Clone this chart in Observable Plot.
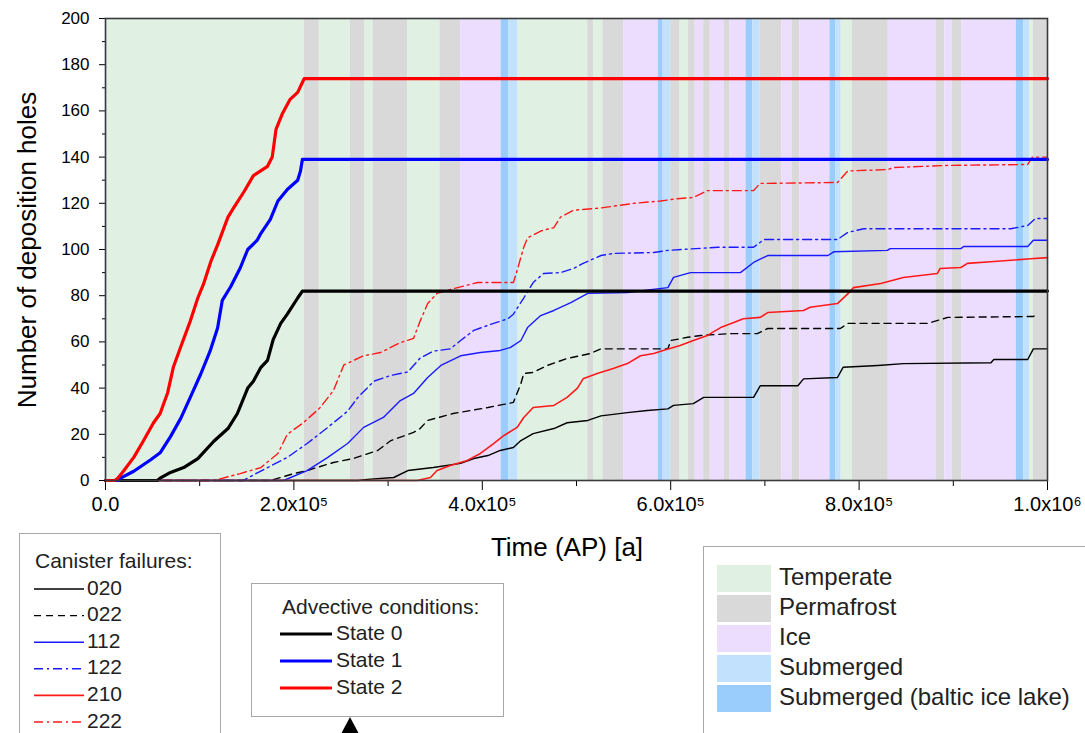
<!DOCTYPE html>
<html>
<head>
<meta charset="utf-8">
<script src="https://cdn.jsdelivr.net/npm/d3@7"></script>
<script src="https://cdn.jsdelivr.net/npm/@observablehq/plot@0.6"></script>
<style>
  html, body { margin: 0; padding: 0; background: #fff; }
  #wrap { position: relative; width: 1085px; height: 733px; overflow: hidden; font-family: "Liberation Sans", Arial, sans-serif; }
  #wrap svg { display: block; }
  #overlay { position: absolute; left: 0; top: 0; pointer-events: none; }
</style>
</head>
<body>
<div id="wrap"></div>
<script>
// ---------------- DATA (time in kyr AP, values = number of deposition holes) ----------------
// Climate domains: start of each period (kyr) and its type; each period ends where the next begins.
const bandStart = [0, 2, 211, 227, 260, 275, 284, 321, 355, 377, 420, 428, 438, 512, 518, 528, 550, 587, 592, 600, 610, 619, 626, 635, 642, 657, 663, 680, 687, 695, 718, 729, 737, 769, 775, 781, 793, 831, 882, 891, 899, 909, 967, 975, 981, 985];
const bandType  = ["Submerged", "Temperate", "Permafrost", "Temperate", "Permafrost", "Temperate", "Permafrost", "Temperate", "Permafrost", "Ice", "Baltic", "Submerged", "Temperate", "Permafrost", "Temperate", "Permafrost", "Ice", "Baltic", "Submerged", "Permafrost", "Temperate", "Permafrost", "Ice", "Permafrost", "Ice", "Permafrost", "Ice", "Baltic", "Submerged", "Permafrost", "Ice", "Permafrost", "Ice", "Baltic", "Submerged", "Temperate", "Permafrost", "Ice", "Permafrost", "Ice", "Permafrost", "Ice", "Baltic", "Submerged", "Temperate", "Permafrost"];
const timeEnd = 1000;

// Advective conditions (thick lines)
const tState0 = [0, 55, 58, 69, 83, 98, 115, 130, 140, 151, 157, 165, 172, 178, 186, 193, 204, 209, 1000];
const vState0 = [0, 0, 1, 3.5, 5.6, 9.5, 17, 22.5, 29, 40, 43, 49, 52, 61, 68, 72, 79, 82, 82];
const tState1 = [0, 14, 16, 30, 48, 58, 69, 80, 90, 101, 111, 119, 124, 133, 143, 151, 161, 165, 175, 183, 193, 204, 207, 209, 1000];
const vState1 = [0, 0, 1, 4, 9, 12, 19, 27, 36, 46, 56, 66, 78, 84, 92, 100, 104, 107, 113, 121, 126, 130, 134, 139, 139];
const tState2 = [0, 10, 13, 19, 30, 40, 51, 58, 66, 72, 80, 90, 98, 104, 112, 119, 130, 136, 147, 157, 172, 177, 181, 188, 196, 204, 211, 1000];
const vState2 = [0, 0, 1, 4, 10, 17, 25, 29, 38, 49, 58, 69, 79, 85, 95, 102, 114, 118, 125, 132, 136, 140, 152, 159, 165, 168, 174, 174];

// Canister failures (thin lines)
const t020 = [0, 268, 278, 306, 321, 348, 377, 391, 406, 419, 433, 441, 454, 476, 490, 512, 526, 554, 575, 597, 603, 624, 635, 688, 695, 735, 741, 777, 783, 820, 847, 940, 943, 979, 985, 1000];
const v020 = [0, 0, 0.5, 1.3, 4.3, 5.6, 7.4, 9.5, 10.8, 13, 14.3, 17.3, 20.3, 22.5, 25, 26, 28, 29.4, 30.3, 31, 32.5, 33.3, 36, 36, 41, 41, 44, 44.6, 49, 49.8, 50.6, 51, 52.4, 52.4, 57, 57];
const t022 = [0, 175, 200, 214, 242, 263, 289, 303, 327, 334, 342, 369, 406, 433, 441, 444, 454, 469, 490, 515, 526, 597, 600, 618, 632, 664, 692, 703, 780, 788, 873, 894, 985, 990];
const v022 = [0, 0, 3, 4.3, 7.8, 9.5, 13, 17.3, 20.8, 22.5, 26, 29, 31.6, 33.8, 42, 46.3, 46.8, 49.8, 52.8, 55, 57, 57, 60.6, 62, 62.8, 63.6, 63.6, 65.8, 65.8, 68, 68, 70.6, 71, 72.3];
const t112 = [0, 189, 214, 236, 257, 274, 295, 313, 327, 342, 356, 377, 398, 419, 430, 441, 448, 462, 476, 494, 512, 554, 597, 603, 621, 674, 688, 703, 767, 773, 830, 833, 908, 911, 979, 985, 1000];
const v112 = [0, 0, 4.3, 10, 16, 23, 27.3, 34.6, 37.7, 44.6, 49.8, 54, 55.4, 56.3, 57.6, 60.6, 66.2, 71.4, 73.6, 77, 81, 81.4, 83.5, 87.9, 90, 90, 94.4, 97.4, 97.4, 99, 99.6, 100.4, 100.4, 101.3, 101.3, 104, 104];
const t122 = [0, 146, 172, 193, 214, 236, 257, 268, 285, 303, 321, 334, 348, 366, 377, 391, 412, 427, 433, 444, 454, 465, 483, 497, 507, 526, 539, 582, 597, 650, 688, 699, 777, 788, 805, 961, 979, 987, 1000];
const v122 = [0, 0, 5.6, 10, 16, 23, 30, 36, 43, 45.5, 47, 53, 56, 57, 60.6, 65, 68, 70, 72, 79, 85.7, 89.6, 90, 91.8, 94, 97.4, 98.3, 98.7, 99.6, 101, 101, 104.3, 104.3, 107.4, 109, 109, 110.4, 113.4, 113.4];
const t210 = [0, 331, 345, 352, 366, 384, 398, 412, 423, 437, 444, 454, 476, 490, 501, 507, 522, 539, 554, 568, 582, 592, 610, 624, 639, 653, 667, 677, 695, 703, 741, 748, 777, 791, 794, 823, 847, 883, 886, 908, 915, 943, 982, 1000];
const v210 = [0, 0, 1.3, 4.3, 6.5, 8.7, 11.7, 16, 19.5, 23, 27.3, 31.6, 32.5, 36, 40, 44, 46.3, 48.5, 50.6, 54, 55, 56.3, 58.4, 60.6, 62.8, 66.2, 68.4, 70, 70.6, 72.7, 73.6, 75, 76.6, 82, 83.5, 85.3, 87.9, 89.6, 91.8, 92.2, 94, 94.8, 96, 96.5];
const t222 = [0, 115, 143, 165, 183, 193, 210, 228, 242, 253, 274, 292, 313, 327, 334, 342, 352, 369, 395, 433, 437, 444, 448, 462, 476, 483, 497, 526, 561, 589, 607, 624, 639, 664, 688, 695, 777, 788, 830, 837, 894, 979, 984, 1000];
const v222 = [0, 0, 3, 5.6, 11.7, 20, 25, 31.6, 39, 50, 54, 55.4, 59.7, 61.5, 69, 76.6, 81, 83, 85.7, 85.7, 91, 101, 105, 108, 109.5, 114, 117, 118, 120, 121, 122, 122.5, 125.5, 125.5, 125.5, 128.6, 129, 134, 134.6, 135.5, 136.4, 136.8, 140, 140];

// Tick values
const xMajorTicks = [0, 200000, 400000, 600000, 800000, 1000000];
const xMinorTicks = [100000, 300000, 500000, 700000, 900000];
const yMajorTicks = [0, 20, 40, 60, 80, 100, 120, 140, 160, 180, 200];
const yMinorTicks = [10, 30, 50, 70, 90, 110, 130, 150, 170, 190];

// Legend labels
const canisterTitle = "Canister failures:";
const canisterLabels = ["020", "022", "112", "122", "210", "222"];
const advectiveTitle = "Advective conditions:";
const advectiveLabels = ["State 0", "State 1", "State 2"];
const climateKeys = ["Temperate", "Permafrost", "Ice", "Submerged", "Baltic"];
const climateLabels = ["Temperate", "Permafrost", "Ice", "Submerged", "Submerged (baltic ice lake)"];

// ---------------- STYLES ----------------
const climateColor = {Temperate: "#e0f0e3", Permafrost: "#d9d9d9", Ice: "#ecdcfe", Submerged: "#c2e1fc", Baltic: "#9acdfc"};
const seriesDefs = [
  {name: "020", t: t020, v: v020, stroke: "#000000", w: 1.4, dash: null},
  {name: "022", t: t022, v: v022, stroke: "#000000", w: 1.4, dash: "7,5"},
  {name: "112", t: t112, v: v112, stroke: "#1a1aff", w: 1.4, dash: null},
  {name: "122", t: t122, v: v122, stroke: "#1a1aff", w: 1.4, dash: "9,4,2,4"},
  {name: "210", t: t210, v: v210, stroke: "#ff1a1a", w: 1.6, dash: null},
  {name: "222", t: t222, v: v222, stroke: "#ff1a1a", w: 1.4, dash: "9,4,2,4"},
  {name: "State 0", t: tState0, v: vState0, stroke: "#000000", w: 3.2, dash: null},
  {name: "State 1", t: tState1, v: vState1, stroke: "#0000ff", w: 3.2, dash: null},
  {name: "State 2", t: tState2, v: vState2, stroke: "#ff0000", w: 3.2, dash: null}
];

// ---------------- BUILD ----------------
const bands = bandStart.map((s, i) => ({
  start: s * 1000,
  end: (i + 1 < bandStart.length ? bandStart[i + 1] : timeEnd) * 1000,
  type: bandType[i]
}));

const sup = {"5": "\u2075", "6": "\u2076"};
function fmtX(d) {
  if (d === 0) return "0.0";
  const e = Math.floor(Math.log10(d));
  return (d / Math.pow(10, e)).toFixed(1) + "x10" + sup[String(e)];
}

const lineMarks = seriesDefs.map(s => {
  const rows = s.t.map((t, i) => ({x: t * 1000, y: s.v[i]}));
  const opts = {x: "x", y: "y", stroke: s.stroke, strokeWidth: s.w, strokeLinejoin: "round"};
  if (s.dash) opts.strokeDasharray = s.dash;
  return Plot.line(rows, opts);
});

const W = 1085, H = 733;
const chart = Plot.plot({
  width: W,
  height: H,
  marginLeft: 105,
  marginRight: 38,
  marginTop: 18,
  marginBottom: 253,
  style: {fontFamily: "Liberation Sans, Arial, sans-serif", fontSize: "17px", background: "#fff", color: "#000", overflow: "visible"},
  x: {domain: [0, 1000000], axis: null},
  y: {domain: [0, 200], axis: null},
  marks: [
    Plot.rect(bands, {x1: "start", x2: "end", y1: 0, y2: 200, fill: d => climateColor[d.type]}),
    ...lineMarks,
    Plot.axisX({ticks: xMajorTicks, tickSize: 10, tickPadding: 6, tickFormat: fmtX, fontSize: 20, label: null, stroke: "#000"}),
    Plot.axisX({ticks: xMinorTicks, tickSize: 6, tickFormat: () => "", label: null}),
    Plot.axisY({ticks: yMajorTicks, tickSize: 6, tickPadding: 10, fontSize: 17, label: null}),
    Plot.axisY({ticks: yMinorTicks, tickSize: 3, tickFormat: () => "", label: null}),
    Plot.frame({stroke: "#3a3a3a", strokeWidth: 1.6})
  ]
});

const wrap = document.getElementById("wrap");
wrap.appendChild(chart);

// ---------------- OVERLAY: axis titles + legends ----------------
const ov = d3.select(wrap).append("svg")
  .attr("id", "overlay")
  .attr("width", W).attr("height", H)
  .style("font-family", "Liberation Sans, Arial, sans-serif");

// axis titles
ov.append("text").attr("x", 567).attr("y", 549).attr("text-anchor", "middle").attr("dominant-baseline", "middle")
  .attr("font-size", 26).text("Time (AP) [a]");
ov.append("text").attr("transform", "translate(29,250) rotate(-90)").attr("text-anchor", "middle").attr("dominant-baseline", "middle")
  .attr("font-size", 26).text("Number of deposition holes");

const boxStroke = "#a8a8a8";

// Canister failures legend
ov.append("rect").attr("x", 19.5).attr("y", 533.5).attr("width", 201).attr("height", 220).attr("fill", "#fff").attr("stroke", boxStroke);
ov.append("text").attr("x", 35).attr("y", 562).attr("dominant-baseline", "middle").attr("font-size", 21).attr("fill", "#222").text(canisterTitle);
canisterLabels.forEach((lab, i) => {
  const s = seriesDefs.find(d => d.name === lab);
  const y = 589 + 26.6 * i;
  const l = ov.append("line").attr("x1", 34).attr("x2", 84).attr("y1", y).attr("y2", y)
    .attr("stroke", s.stroke).attr("stroke-width", s.w);
  if (s.dash) l.attr("stroke-dasharray", s.dash);
  ov.append("text").attr("x", 87).attr("y", y).attr("dominant-baseline", "middle").attr("font-size", 21).attr("fill", "#222").text(lab);
});

// Advective conditions legend
ov.append("rect").attr("x", 251.5).attr("y", 583.5).attr("width", 252).attr("height", 133).attr("fill", "#fff").attr("stroke", boxStroke);
ov.append("text").attr("x", 282).attr("y", 608).attr("dominant-baseline", "middle").attr("font-size", 21).attr("fill", "#222").text(advectiveTitle);
advectiveLabels.forEach((lab, i) => {
  const s = seriesDefs.find(d => d.name === lab);
  const y = 634 + 27 * i;
  ov.append("line").attr("x1", 280).attr("x2", 332).attr("y1", y).attr("y2", y)
    .attr("stroke", s.stroke).attr("stroke-width", s.w);
  ov.append("text").attr("x", 336).attr("y", y).attr("dominant-baseline", "middle").attr("font-size", 21).attr("fill", "#222").text(lab);
});
// pointer triangle below the advective legend
ov.append("path").attr("d", "M350,717 L359,734 L341,734 Z").attr("fill", "#000");

// Climate domain legend
ov.append("rect").attr("x", 703.5).attr("y", 546.5).attr("width", 400).attr("height", 200).attr("fill", "#fff").attr("stroke", boxStroke);
climateKeys.forEach((k, i) => {
  const y0 = 565 + 30 * i;
  ov.append("rect").attr("x", 717).attr("y", y0).attr("width", 54).attr("height", 27).attr("fill", climateColor[k]);
  ov.append("text").attr("x", 779).attr("y", y0 + 14).attr("dominant-baseline", "middle").attr("font-size", 24).attr("fill", "#222").text(climateLabels[i]);
});
</script>
</body>
</html>
